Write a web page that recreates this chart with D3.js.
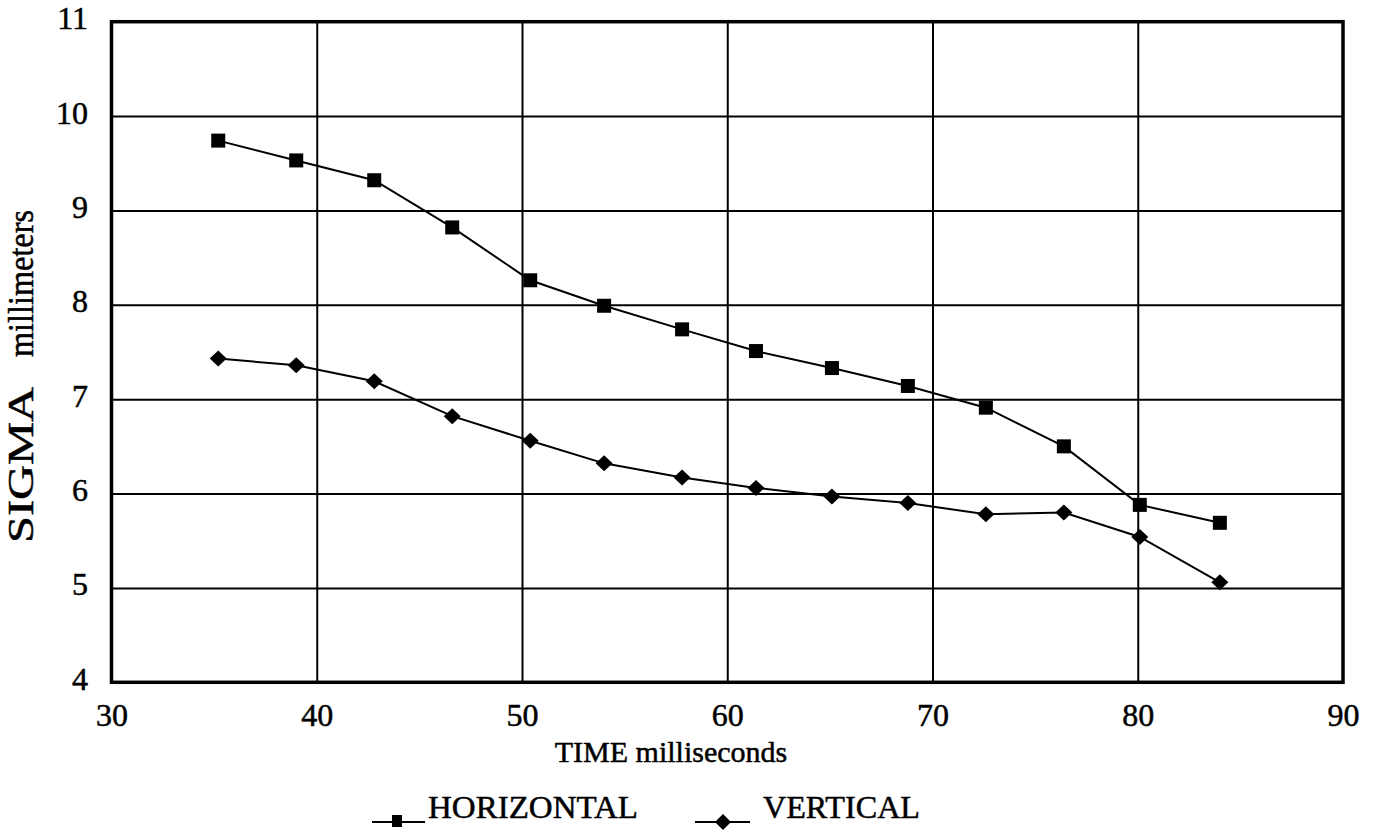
<!DOCTYPE html>
<html>
<head>
<meta charset="utf-8">
<script src="https://cdn.jsdelivr.net/npm/d3@7/dist/d3.min.js"></script>
<style>
  html, body { margin: 0; padding: 0; background: #fff; }
  svg { display: block; }
  text { font-family: "Liberation Serif", "Times New Roman", serif; fill: #000; stroke: #000; stroke-width: 0.5px; }
</style>
</head>
<body>
<svg id="chart" width="1375" height="833"></svg>
<script>
// Sigma versus time, horizontal and vertical components
const timeMs     = [35.2, 39.0, 42.8, 46.6, 50.4, 54.0, 57.8, 61.4, 65.1, 68.8, 72.6, 76.4, 80.1, 84.0];
const horizontal = [9.74, 9.53, 9.32, 8.82, 8.26, 7.99, 7.74, 7.51, 7.33, 7.14, 6.91, 6.50, 5.88, 5.69];
const vertical   = [7.43, 7.36, 7.19, 6.82, 6.56, 6.32, 6.17, 6.06, 5.97, 5.90, 5.78, 5.80, 5.54, 5.06];

const xTicks = [30, 40, 50, 60, 70, 80, 90];
const yTicks = [4, 5, 6, 7, 8, 9, 10, 11];
const xTitle = "TIME milliseconds";
const yTitleA = "SIGMA";
const yTitleB = "millimeters";
const seriesNames = ["HORIZONTAL", "VERTICAL"];

const svg = d3.select("#chart");
const plotLeft = 111.5, plotRight = 1343, plotTop = 21.7, plotBottom = 682.3;

const x = d3.scaleLinear().domain([30, 90]).range([plotLeft, plotRight]);
const y = d3.scaleLinear().domain([4, 11]).range([plotBottom, plotTop]);
const fmt = d3.format("d");

// grid lines
const gx = svg.append("g")
  .attr("transform", `translate(0,${plotBottom})`)
  .call(d3.axisBottom(x).tickValues(xTicks.slice(1, -1)).tickSize(-(plotBottom - plotTop)).tickFormat(""));
const gy = svg.append("g")
  .attr("transform", `translate(${plotLeft},0)`)
  .call(d3.axisLeft(y).tickValues(yTicks.slice(1, -1)).tickSize(-(plotRight - plotLeft)).tickFormat(""));
[gx, gy].forEach(g => {
  g.select(".domain").remove();
  g.selectAll("line").attr("stroke", "#000").attr("stroke-width", 2);
});

// tick labels
const lx = svg.append("g")
  .attr("transform", `translate(0,${plotBottom})`)
  .call(d3.axisBottom(x).tickValues(xTicks).tickFormat(fmt).tickSize(0).tickPadding(0));
lx.select(".domain").remove();
lx.selectAll("text")
  .attr("y", 44).attr("dy", null)
  .attr("font-size", 32).attr("font-family", "Liberation Serif");

const ly = svg.append("g")
  .attr("transform", `translate(88,0)`)
  .call(d3.axisLeft(y).tickValues(yTicks).tickFormat(fmt).tickSize(0).tickPadding(0));
ly.select(".domain").remove();
ly.selectAll("text")
  .attr("x", 0).attr("dy", "0.28em")
  .attr("font-size", 32).attr("font-family", "Liberation Serif")
  .attr("text-anchor", "end")
  .attr("transform", "translate(0,-2)");

// frame
svg.append("rect")
  .attr("x", plotLeft).attr("y", plotTop)
  .attr("width", plotRight - plotLeft).attr("height", plotBottom - plotTop)
  .attr("fill", "none").attr("stroke", "#000").attr("stroke-width", 3.5);

// axis titles
svg.append("text")
  .attr("x", 671).attr("y", 762)
  .attr("text-anchor", "middle")
  .attr("font-size", 30)
  .text(xTitle);

svg.append("text")
  .attr("transform", "translate(33,543) rotate(-90)")
  .attr("font-size", 35)
  .attr("textLength", 156).attr("lengthAdjust", "spacingAndGlyphs")
  .text(yTitleA);
svg.append("text")
  .attr("transform", "translate(33,357) rotate(-90)")
  .attr("font-size", 35)
  .attr("textLength", 147).attr("lengthAdjust", "spacingAndGlyphs")
  .text(yTitleB);

// series
const line = d3.line().x(d => x(d[0])).y(d => y(d[1]));
const hData = timeMs.map((t, i) => [t, horizontal[i]]);
const vData = timeMs.map((t, i) => [t, vertical[i]]);

svg.append("path").datum(hData).attr("d", line)
  .attr("fill", "none").attr("stroke", "#000").attr("stroke-width", 2);
svg.append("path").datum(vData).attr("d", line)
  .attr("fill", "none").attr("stroke", "#000").attr("stroke-width", 2);

const sq = 14;
svg.append("g").selectAll("rect").data(hData).join("rect")
  .attr("x", d => x(d[0]) - sq / 2).attr("y", d => y(d[1]) - sq / 2)
  .attr("width", sq).attr("height", sq).attr("fill", "#000");

const diamond = (cx, cy, w, h) =>
  `M${cx},${cy - h / 2}L${cx + w / 2},${cy}L${cx},${cy + h / 2}L${cx - w / 2},${cy}Z`;
svg.append("g").selectAll("path").data(vData).join("path")
  .attr("d", d => diamond(x(d[0]), y(d[1]), 17, 16)).attr("fill", "#000");

// legend
const lg = svg.append("g");
lg.append("line").attr("x1", 372).attr("x2", 425).attr("y1", 822).attr("y2", 822)
  .attr("stroke", "#000").attr("stroke-width", 2);
lg.append("rect").attr("x", 397 - 5).attr("y", 822 - 7).attr("width", 10).attr("height", 12).attr("fill", "#000");
lg.append("text").attr("x", 428).attr("y", 818).attr("font-size", 32)
  .attr("textLength", 210).attr("lengthAdjust", "spacingAndGlyphs").text(seriesNames[0]);

lg.append("line").attr("x1", 695).attr("x2", 750).attr("y1", 822).attr("y2", 822)
  .attr("stroke", "#000").attr("stroke-width", 2);
lg.append("path").attr("d", diamond(723, 822, 16, 16)).attr("fill", "#000");
lg.append("text").attr("x", 763).attr("y", 818).attr("font-size", 32)
  .attr("textLength", 157).attr("lengthAdjust", "spacingAndGlyphs").text(seriesNames[1]);
</script>
</body>
</html>
